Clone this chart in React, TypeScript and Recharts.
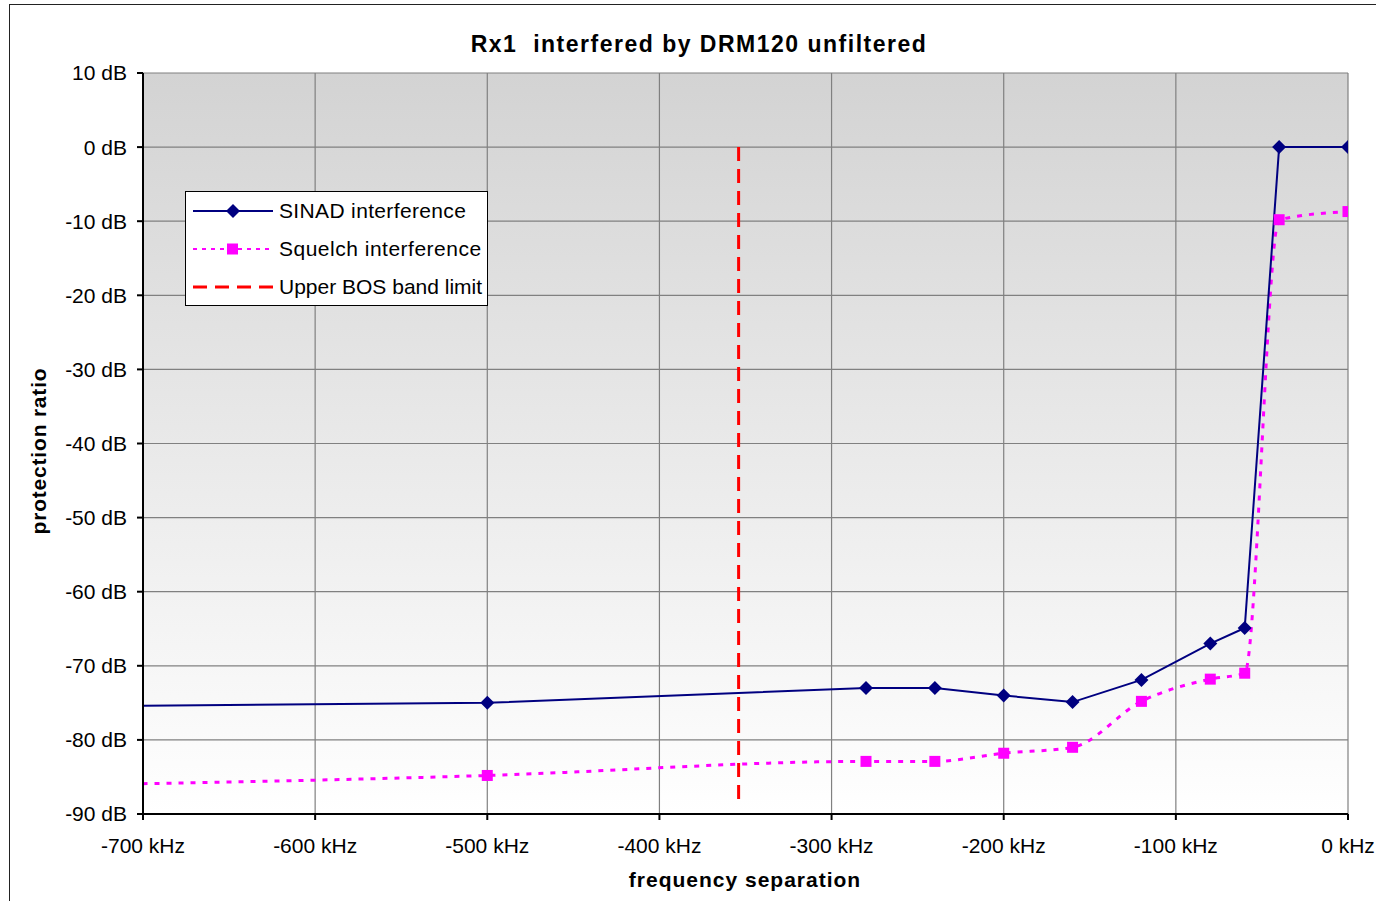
import React from 'react';
import { LineChart, Line, XAxis, YAxis, CartesianGrid } from 'recharts';

// frequency separation (kHz); the first point lies left of the visible range
const freqKhz = [-1000, -500, -280, -240, -200, -160, -120, -80, -60, -40, 0];
const sinadDb = [-76, -75, -73, -73, -74, -74.9, -71.9, -67, -64.9, 0, 0];
const squelchDb = [-86.8, -84.8, -82.9, -82.9, -81.8, -81, -74.8, -71.8, -71, -9.8, -8.7];
const bosLimitKhz = [-354, -354];
const bosLimitDb = [0, -88];

const xTicks = [-700, -600, -500, -400, -300, -200, -100, 0];
const yTicks = [10, 0, -10, -20, -30, -40, -50, -60, -70, -80, -90];

const FONT = '"Liberation Sans", Arial, sans-serif';
const NAVY = '#000080';
const MAGENTA = '#ff00ff';
const RED = '#ff0000';

const sinadData = freqKhz.map((khz, i) => ({ khz, db: sinadDb[i] }));
const squelchData = freqKhz.map((khz, i) => ({ khz, db: squelchDb[i] }));
const bosData = bosLimitKhz.map((khz, i) => ({ khz, db: bosLimitDb[i] }));

const DiamondDot = (props: any) => {
  const { cx, cy, index, payload } = props;
  if (cx == null || cy == null || payload?.khz < -700) return <g key={`d${index}`} />;
  const r = 7;
  return (
    <path
      key={`d${index}`}
      d={`M${cx},${cy - r}L${cx + r},${cy}L${cx},${cy + r}L${cx - r},${cy}Z`}
      fill={NAVY}
    />
  );
};

const SquareDot = (props: any) => {
  const { cx, cy, index, payload } = props;
  if (cx == null || cy == null || payload?.khz < -700) return <g key={`s${index}`} />;
  const s = 11;
  return <rect key={`s${index}`} x={cx - s / 2} y={cy - s / 2} width={s} height={s} fill={MAGENTA} />;
};

function LegendBox() {
  const row = (sample: React.ReactNode, label: string, spacing: number) => (
    <div style={{ display: 'flex', alignItems: 'center', height: 38, whiteSpace: 'nowrap' }}>
      <svg width={86} height={20} style={{ marginLeft: 7, flexShrink: 0 }}>
        {sample}
      </svg>
      <span style={{ letterSpacing: spacing }}>{label}</span>
    </div>
  );
  return (
    <div
      style={{
        position: 'absolute',
        left: 185,
        top: 191,
        width: 301,
        height: 113,
        border: '1px solid #000',
        background: '#fff',
        fontFamily: FONT,
        fontSize: 21,
        color: '#000',
        boxSizing: 'content-box',
        overflow: 'hidden',
      }}
    >
      {row(
        <>
          <line x1={0} y1={10} x2={80} y2={10} stroke={NAVY} strokeWidth={2} />
          <path d="M40,3L47,10L40,17L33,10Z" fill={NAVY} />
        </>,
        'SINAD interference',
        0.35
      )}
      {row(
        <>
          <line x1={0} y1={10} x2={80} y2={10} stroke={MAGENTA} strokeWidth={2} strokeDasharray="4 5" />
          <rect x={34} y={4.5} width={11} height={11} fill={MAGENTA} />
        </>,
        'Squelch interference',
        0.5
      )}
      {row(
        <line x1={0} y1={10} x2={80} y2={10} stroke={RED} strokeWidth={3} strokeDasharray="14 8" />,
        'Upper BOS band limit',
        0
      )}
    </div>
  );
}

export default function App() {
  return (
    <div
      style={{
        position: 'absolute',
        left: 0,
        top: 0,
        width: 1376,
        height: 901,
        overflow: 'hidden',
        background: '#fff',
      }}
    >
      <div
        style={{
          position: 'absolute',
          left: 9,
          top: 4,
          width: 1420,
          height: 1000,
          border: '1px solid #222',
        }}
      />
      <div style={{ position: 'absolute', left: 0, top: 0 }}>
        <LineChart width={1376} height={901} margin={{ top: 73, right: 28, left: 0, bottom: 0 }}>
          <defs>
            <linearGradient id="plotBg" x1="0" y1="0" x2="0" y2="1">
              <stop offset="0%" stopColor="#d3d3d3" />
              <stop offset="100%" stopColor="#ffffff" />
            </linearGradient>
          </defs>
          <text
            x={699}
            y={52}
            textAnchor="middle"
            fontFamily={FONT}
            fontWeight="bold"
            fontSize={23}
            letterSpacing={1.5}
            fill="#000"
            style={{ whiteSpace: 'pre' }}
          >
            {'Rx1  interfered by DRM120 unfiltered'}
          </text>
          <text
            transform="translate(46,451) rotate(-90)"
            textAnchor="middle"
            fontFamily={FONT}
            fontWeight="bold"
            fontSize={21}
            letterSpacing={0.8}
            fill="#000"
          >
            protection ratio
          </text>
          <text
            x={745}
            y={887}
            textAnchor="middle"
            fontFamily={FONT}
            fontWeight="bold"
            fontSize={21}
            letterSpacing={1}
            fill="#000"
          >
            frequency separation
          </text>
          <CartesianGrid fill="url(#plotBg)" fillOpacity={1} stroke="#808080" strokeWidth={1.2} />
          <XAxis
            dataKey="khz"
            type="number"
            domain={[-700, 0]}
            ticks={xTicks}
            allowDataOverflow
            height={87}
            tickFormatter={(v) => `${v} kHz`}
            tick={{ fill: '#000', fontSize: 21, fontFamily: FONT }}
            tickSize={6}
            tickMargin={18}
            stroke="#000"
            strokeWidth={2}
          />
          <YAxis
            type="number"
            domain={[-90, 10]}
            ticks={yTicks}
            allowDataOverflow
            width={143}
            tickFormatter={(v) => `${v} dB`}
            tick={{ fill: '#000', fontSize: 21, fontFamily: FONT }}
            tickSize={6}
            tickMargin={10}
            stroke="#000"
            strokeWidth={2}
          />
          <Line
            data={bosData}
            dataKey="db"
            type="linear"
            stroke={RED}
            strokeWidth={3}
            strokeDasharray="14 8"
            dot={false}
            activeDot={false}
            isAnimationActive={false}
          />
          <Line
            data={squelchData}
            dataKey="db"
            type="monotone"
            stroke={MAGENTA}
            strokeWidth={3}
            strokeDasharray="5 7"
            dot={SquareDot}
            activeDot={false}
            isAnimationActive={false}
          />
          <Line
            data={sinadData}
            dataKey="db"
            type="linear"
            stroke={NAVY}
            strokeWidth={2}
            dot={DiamondDot}
            activeDot={false}
            isAnimationActive={false}
          />
        </LineChart>
      </div>
      <LegendBox />
    </div>
  );
}
